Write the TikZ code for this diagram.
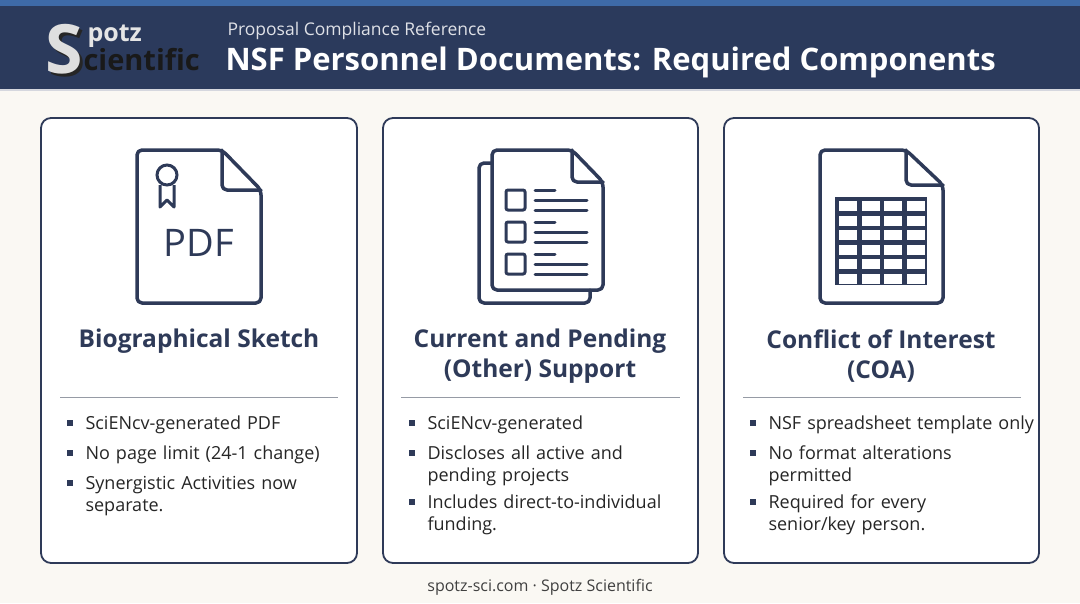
\documentclass[tikz,border=0pt]{standalone}
\usepackage{fontspec}
\setmainfont{Open Sans}
\usetikzlibrary{positioning}
\definecolor{spotznavy}{RGB}{43,58,92}
\definecolor{spotzstripe}{RGB}{62,106,168}
\definecolor{spotzpaper}{RGB}{250,248,243}
\definecolor{spotzink}{RGB}{46,58,88}
\definecolor{spotzrule}{RGB}{150,155,165}
\tikzset{
  card/.style={draw=spotzink, line width=1.8pt, fill=white, rounded corners=10pt},
  icon/.style={draw=spotzink, line width=3.5pt, line join=round, line cap=round, rounded corners=5pt},
  cardtitle/.style={font=\bfseries\fontsize{24.5}{30}\selectfont, text=spotzink, align=center},
  bullets/.style={font=\fontsize{18}{22}\selectfont, text=black!85, align=left, anchor=north west, text width=310pt},
}
\newcommand{\sqbullet}{\textcolor{spotzink}{\rule[3pt]{6pt}{6pt}}\hspace{13pt}}
\newcommand{\bitem}[1]{\noindent\sqbullet\parbox[t]{285pt}{\raggedright #1}\par\vspace{8pt}}
\begin{document}
\begin{tikzpicture}[x=1pt,y=-1pt]
  \useasboundingbox (0,0) rectangle (1080,603);
  % background and header band
  \fill[spotzpaper] (0,0) rectangle (1080,603);
  \fill[spotznavy] (0,0) rectangle (1080,90);
  \fill[spotzstripe] (0,0) rectangle (1080,6);
  \fill[white!80!spotznavy] (0,89) rectangle (1080,91);

  % logo
  \node[font=\bfseries\fontsize{68}{68}\selectfont, text=black!85] at (67,52) {S};
  \node[font=\bfseries\fontsize{68}{68}\selectfont, text=gray!25] at (64,49) (logoS) {S};
  \node[font=\bfseries\fontsize{25}{25}\selectfont, text=gray!20, anchor=west] at (84,36) (logop) {potz};
  \node[font=\bfseries\fontsize{29}{29}\selectfont, text=black!90, anchor=west] at (80,60) (logoc) {cientific};

  % header texts
  \node[font=\fontsize{17.5}{20}\selectfont, text=white!85!spotznavy, anchor=west] (subtitle) at (224,31) {Proposal Compliance Reference};
  \node[font=\bfseries\fontsize{31}{34}\selectfont, text=white, anchor=west] (title) at (222,62) {NSF Personnel Documents: Required Components};

  % cards
  \draw[card] (41,118) rectangle (357,563);
  \draw[card] (383,118) rectangle (698,563);
  \draw[card] (724,118) rectangle (1039,563);

  % icon: biosketch
  \draw[icon] (222,150) -- (137,150) -- (137,303) -- (261,303) -- (261,190) -- cycle;
  \draw[icon] (222,150) -- (222,190) -- (261,190);
  \draw[spotzink, line width=3pt] (167,175) circle (10pt);
  \draw[spotzink, line width=3pt, line join=round] (160,185) -- (160,207) -- (167,200) -- (174,207) -- (174,185);
  \node[font=\fontsize{38}{38}\selectfont, text=spotzink] (pdf) at (199,243) {PDF};

  % icon: current and pending
  \draw[icon] (492,163) -- (479,163) -- (479,303) -- (590,303) -- (590,290);
  \draw[icon] (572,150) -- (492,150) -- (492,290) -- (603,290) -- (603,182) -- cycle;
  \draw[icon] (572,150) -- (572,182) -- (603,182);
  \foreach \yy in {190,222,254} {
    \draw[spotzink, line width=3pt, rounded corners=2pt] (506,\yy) rectangle (525,\yy+20);
    \draw[spotzink, line width=3pt, line cap=round] (535,\yy) -- (555,\yy);
    \draw[spotzink, line width=3pt, line cap=round] (535,\yy+10) -- (587,\yy+10);
    \draw[spotzink, line width=3pt, line cap=round] (535,\yy+20) -- (587,\yy+20);
  }

  % icon: COA spreadsheet
  \draw[icon] (906,150) -- (820,150) -- (820,303) -- (943,303) -- (943,185) -- cycle;
  \draw[icon] (906,150) -- (906,185) -- (943,185);
  \fill[spotzink] (835,197) rectangle (927,285);
  \foreach \cx in {0,1,2,3} {
    \foreach \cy in {0,...,5} {
      \fill[white] (839+\cx*22.5,201+\cy*14.5) rectangle (857+\cx*22.5,211+\cy*14.5);
    }
  }

  % card titles
  \node[cardtitle] (bioTitle) at (199,341) {Biographical Sketch};
  \node[cardtitle] (cpTitle) at (540,356) {Current and Pending\\(Other) Support};
  \node[cardtitle] (coaTitle) at (881,356) {Conflict of Interest\\(COA)};

  % separators
  \draw[spotzrule, line width=0.8pt] (60,397) -- (338,397);
  \draw[spotzrule, line width=0.8pt] (401,397) -- (680,397);
  \draw[spotzrule, line width=0.8pt] (743,397) -- (1021,397);

  % bullet lists
  \node[bullets] (bioList) at (63,412) {%
    \bitem{SciENcv-generated PDF}
    \bitem{No page limit (24-1 change)}
    \bitem{Synergistic Activities now\\separate.}};
  \node[bullets] (cpList) at (405,412) {%
    \bitem{SciENcv-generated}
    \bitem{Discloses all active and\\pending projects}
    \bitem{Includes direct-to-individual\\funding.}};
  \node[bullets] (coaList) at (746,412) {%
    \bitem{NSF spreadsheet template only}
    \bitem{No format alterations\\permitted}
    \bitem{Required for every\\senior/key person.}};

  % footer
  \node[font=\fontsize{16}{18}\selectfont, text=black!75] (footer) at (540,587) {spotz-sci.com · Spotz Scientific};
\end{tikzpicture}
\end{document}
